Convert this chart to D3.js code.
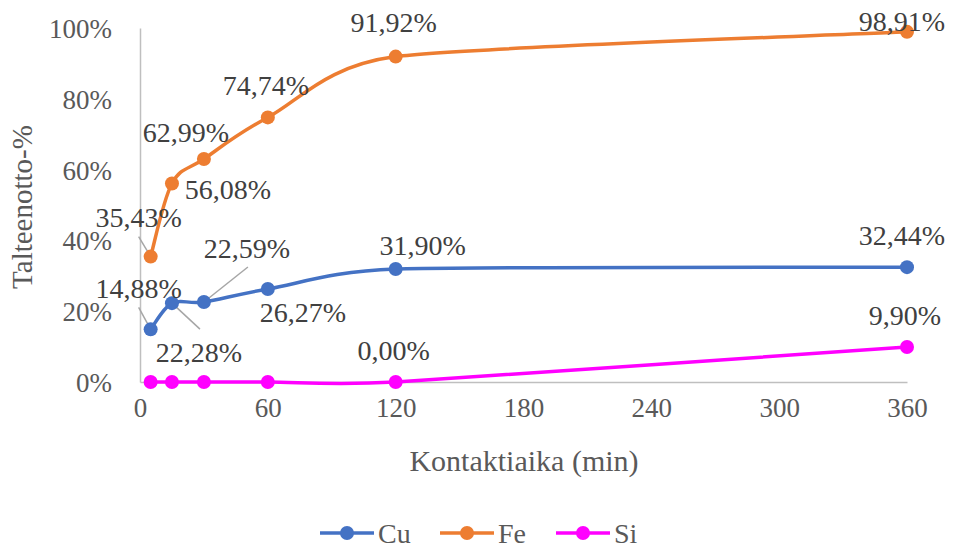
<!DOCTYPE html>
<html><head><meta charset="utf-8">
<script src="https://cdn.jsdelivr.net/npm/d3@7"></script>
</head><body style="margin:0;padding:0;background:#fff">
<svg id="chart" width="954" height="549" font-family="Liberation Serif"></svg>
<script>
const times = [5, 15, 30, 60, 120, 360];
const cuValues = [14.88, 22.28, 22.59, 26.27, 31.90, 32.44];
const feValues = [35.43, 56.08, 62.99, 74.74, 91.92, 98.91];
const siValues = [0, 0, 0, 0, 0, 9.90];
const xTicks = [0, 60, 120, 180, 240, 300, 360];
const yTicks = [0, 20, 40, 60, 80, 100];
const seriesNames = ["Cu", "Fe", "Si"];

// label layout (offsets of label centre relative to the point; optional leader end)
const labelLayout = {
  Cu: [{d:[-12,-41], l:[-12,-22]}, {d:[27,49], l:[28,26]}, {d:[43,-54], l:[44,-35]}, {d:[35,23]}, {d:[27,-24]}, {d:[-5,-32]}],
  Fe: [{d:[-12,-39], l:[-12,-20]}, {d:[56,6]}, {d:[-18,-27]}, {d:[-2,-32]}, {d:[-2,-34]}, {d:[-5,-11]}],
  Si: [null, null, null, null, {d:[-2,-32]}, {d:[-2,-32]}]
};
const colors = {Cu:"#4472C4", Fe:"#ED7D31", Si:"#FF00FF"};
const valuesBy = {Cu: cuValues, Fe: feValues, Si: siValues};

// Excel-like smoothed line: Catmull-Rom (1/6) tangents, capped at half the shorter neighbouring segment
function ExcelSmooth(context) { this._context = context; }
ExcelSmooth.prototype = {
  areaStart() {}, areaEnd() {},
  lineStart() { this._pts = []; },
  point(x, y) { this._pts.push([+x, +y]); },
  lineEnd() {
    const p = this._pts, n = p.length, c = this._context;
    if (!n) return;
    c.moveTo(p[0][0], p[0][1]);
    if (n === 1) return;
    const ctrl = (i, sign) => {
      const cur = p[i], prev = p[Math.max(i - 1, 0)], next = p[Math.min(i + 1, n - 1)];
      const tx = next[0] - prev[0], ty = next[1] - prev[1];
      const d02 = Math.hypot(tx, ty);
      if (d02 === 0) return cur;
      const d01 = Math.hypot(cur[0] - prev[0], cur[1] - prev[1]);
      const d12 = Math.hypot(next[0] - cur[0], next[1] - cur[1]);
      const segs = [d01, d12].filter(v => v > 0);
      const lim = Math.min(...segs) / 2;
      const len = Math.min(d02 / 6, lim);
      return [cur[0] + sign * tx / d02 * len, cur[1] + sign * ty / d02 * len];
    };
    for (let i = 0; i < n - 1; i++) {
      const c1 = ctrl(i, 1), c2 = ctrl(i + 1, -1);
      c.bezierCurveTo(c1[0], c1[1], c2[0], c2[1], p[i + 1][0], p[i + 1][1]);
    }
  }
};
const curveExcel = ctx => new ExcelSmooth(ctx);

const svg = d3.select("#chart");
const FONT = "Liberation Serif";
const textColor = "#595959";

const x = d3.scaleLinear().domain([0, 360]).range([140, 907]);
const y = d3.scaleLinear().domain([0, 100]).range([382, 28]);

// axes
const xAxis = svg.append("g").attr("transform", `translate(0,${y(0)})`)
  .call(d3.axisBottom(x).tickValues(xTicks).tickSize(0).tickPadding(0).tickFormat(d3.format("d")));
xAxis.attr("font-family", FONT);
xAxis.select(".domain").attr("stroke", "#BFBFBF").attr("stroke-width", 1.5);
xAxis.selectAll("text").attr("y", 35).attr("dy", "0").attr("font-family", FONT).attr("font-size", 27).attr("fill", textColor);

const yAxis = svg.append("g").attr("transform", `translate(${x(0)},0)`)
  .call(d3.axisLeft(y).tickValues(yTicks).tickSize(0).tickPadding(28).tickFormat(d => d + "%"));
yAxis.attr("font-family", FONT);
yAxis.select(".domain").attr("stroke", "#BFBFBF").attr("stroke-width", 1.5);
yAxis.selectAll("text").attr("dy", "0.35em").attr("font-family", FONT).attr("font-size", 27).attr("fill", textColor);

// axis titles
svg.append("text").attr("x", 524).attr("y", 460).attr("dy", "0.35em").attr("text-anchor", "middle")
  .attr("font-family", FONT).attr("font-size", 30).attr("fill", textColor).text("Kontaktiaika (min)");
svg.append("text").attr("transform", "translate(22,207) rotate(-90)").attr("dy", "0.35em").attr("text-anchor", "middle")
  .attr("font-family", FONT).attr("font-size", 29).attr("fill", textColor).text("Talteenotto-%");

const line = d3.line().x(d => x(d[0])).y(d => y(d[1])).curve(curveExcel);
const fmt = v => v.toFixed(2).replace(".", ",") + "%";

// leader lines first
seriesNames.forEach(name => {
  const vals = valuesBy[name];
  labelLayout[name].forEach((lab, i) => {
    if (lab && lab.l) {
      const px = x(times[i]), py = y(vals[i]);
      svg.append("line").attr("x1", px).attr("y1", py).attr("x2", px + lab.l[0]).attr("y2", py + lab.l[1])
        .attr("stroke", "#A6A6A6").attr("stroke-width", 1.5);
    }
  });
});

seriesNames.forEach(name => {
  const vals = valuesBy[name];
  const pts = times.map((t, i) => [t, vals[i]]);
  svg.append("path").datum(pts).attr("d", line).attr("fill", "none")
    .attr("stroke", colors[name]).attr("stroke-width", 3.5).attr("stroke-linecap", "round");
  svg.append("g").selectAll("circle").data(pts).join("circle")
    .attr("cx", d => x(d[0])).attr("cy", d => y(d[1])).attr("r", 7).attr("fill", colors[name]);
});

// data labels
seriesNames.forEach(name => {
  const vals = valuesBy[name];
  labelLayout[name].forEach((lab, i) => {
    if (!lab) return;
    svg.append("text").attr("x", x(times[i]) + lab.d[0]).attr("y", y(vals[i]) + lab.d[1]).attr("dy", "0.35em")
      .attr("text-anchor", "middle").attr("font-family", FONT).attr("font-size", 28).attr("fill", "#404040")
      .text(fmt(vals[i]));
  });
});

// legend
const legendX = [320, 440, 556];
seriesNames.forEach((name, i) => {
  const g = svg.append("g").attr("transform", `translate(${legendX[i]},533)`);
  g.append("line").attr("x1", 0).attr("x2", 54).attr("y1", 0).attr("y2", 0).attr("stroke", colors[name]).attr("stroke-width", 3.5);
  g.append("circle").attr("cx", 27).attr("cy", 0).attr("r", 7).attr("fill", colors[name]);
  g.append("text").attr("x", 58).attr("y", 0).attr("dy", "0.35em").attr("font-family", FONT).attr("font-size", 28)
    .attr("fill", textColor).text(name);
});
</script>
</body></html>
